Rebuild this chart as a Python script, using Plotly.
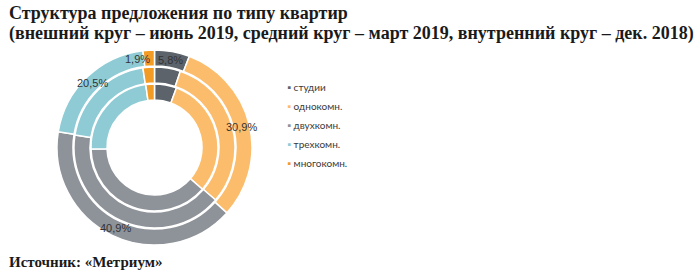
import math
import plotly.graph_objects as go

categories = ["студии", "однокомн.", "двухкомн.", "трехкомн.", "многокомн."]
colors = ["#5d636b", "#fbbd6c", "#8e9299", "#8ecbd5", "#f39c25"]
outer_jun_2019 = [5.8, 30.9, 40.9, 20.5, 1.9]
middle_mar_2019 = [5.2, 31.1, 41.2, 20.2, 2.3]
inner_dec_2018 = [5.6, 30.8, 38.2, 23.2, 2.2]

title_lines = ["Структура предложения по типу квартир",
               "(внешний круг – июнь 2019, средний круг – март 2019, внутренний круг – дек. 2018)"]
source_text = "Источник: «Метриум»"

W, H = 700, 276
cx, cy = 154.5, 147.5


def dom(R):
    return dict(x=[(cx - R) / W, (cx + R) / W], y=[1 - (cy + R) / H, 1 - (cy - R) / H])


rings = [
    (outer_jun_2019, 97.5, 81.5),
    (middle_mar_2019, 80.5, 64.5),
    (inner_dec_2018, 63.5, 47.5),
]

fig = go.Figure()
for vals, R, r_in in rings:
    fig.add_trace(go.Pie(
        labels=categories, values=vals, sort=False, direction="clockwise", rotation=0,
        hole=r_in / R, domain=dom(R), textinfo="none", showlegend=False,
        marker=dict(colors=colors, line=dict(color="white", width=1.5)),
    ))

annotations = []
# percent labels on the outer ring
cum = 0.0
r_lab = 89
for i, v in enumerate(outer_jun_2019):
    th = 2 * math.pi * (cum + v / 2) / 100
    cum += v
    px = cx + r_lab * math.sin(th)
    py = cy - r_lab * math.cos(th)
    txt = f"{v:.1f}".replace(".", ",") + "%"
    small_left = (i == len(outer_jun_2019) - 1)
    annotations.append(dict(
        x=px / W, y=1 - py / H, xref="paper", yref="paper", text=txt, showarrow=False,
        xanchor="right" if small_left else "center", yanchor="middle",
        xshift=3 if small_left else 0,
        font=dict(family="Liberation Sans, Arial", size=11, color="#333333"),
    ))

# legend
for i, (lab, c) in enumerate(zip(categories, colors)):
    annotations.append(dict(
        x=285 / W, y=1 - (87 + 19 * i) / H, xref="paper", yref="paper",
        text=f'<span style="color:{c}">▪</span> {lab}', showarrow=False,
        xanchor="left", yanchor="middle",
        font=dict(family="Lato, Open Sans, sans-serif", size=10, color="#3a3a3a"),
    ))

serif = "Liberation Serif, Times New Roman, serif"
# title (two lines)
for j, line in enumerate(title_lines):
    annotations.append(dict(
        x=7 / W, y=1 - (13.5 + 20 * j) / H, xref="paper", yref="paper",
        text=f"<b>{line}</b>", showarrow=False, xanchor="left", yanchor="middle",
        font=dict(family=serif, size=18, color="#1a1a1a"),
    ))

annotations.append(dict(
    x=7 / W, y=1 - 262 / H, xref="paper", yref="paper", text=f"<b>{source_text}</b>",
    showarrow=False, xanchor="left", yanchor="middle",
    font=dict(family=serif, size=15, color="#1a1a1a"),
))

fig.update_layout(
    width=W, height=H, margin=dict(l=0, r=0, t=0, b=0),
    paper_bgcolor="white", plot_bgcolor="white",
    annotations=annotations,
)

fig.write_html("out.html")
